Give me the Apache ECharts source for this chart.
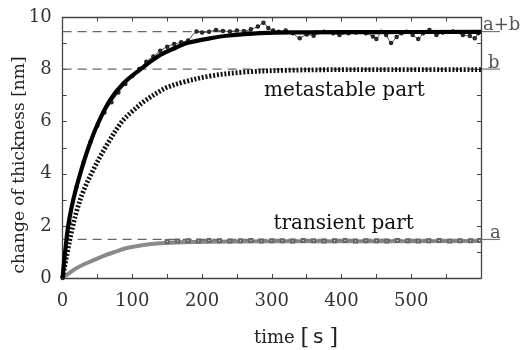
<!DOCTYPE html>
<html><head><meta charset="utf-8">
<script src="https://cdn.jsdelivr.net/npm/echarts@6/dist/echarts.min.js"></script>
<style>html,body{margin:0;padding:0;background:#fff}#c{width:522px;height:350px}</style>
</head><body><div id="c"></div>
<script>
// fitted total (a+b), thick black
const sumTime   = [0, 4, 8, 13, 18, 25, 37, 51, 68, 87, 111, 140, 163, 180, 211, 235, 283, 350, 450, 600];
const sumValues = [0, 1.1, 2.0, 2.72, 3.3, 3.98, 5.0, 5.95, 6.83, 7.47, 8.0, 8.56, 8.85, 9.03, 9.2, 9.3, 9.4, 9.43, 9.44, 9.45];
// metastable part, dotted
const metaTime   = [0, 3, 7, 13, 20, 30, 44, 61, 85, 100, 118, 140, 151, 173, 211, 259, 331, 450, 600];
const metaValues = [0, 0.45, 1.0, 1.8, 2.55, 3.35, 4.15, 5.0, 6.0, 6.4, 6.8, 7.18, 7.33, 7.52, 7.75, 7.9, 7.98, 8.0, 8.0];
// transient part, gray
const transTime   = [0, 10, 20, 30, 44, 60, 75, 92, 116, 140, 187, 250, 350, 600];
const transValues = [0, 0.2, 0.38, 0.52, 0.68, 0.86, 1.0, 1.15, 1.27, 1.33, 1.38, 1.4, 1.41, 1.42];
// transient measured points
const transDataTime   = [150, 165, 180, 195, 210, 225, 240, 255, 270, 285, 300, 315, 330, 345, 360, 375, 390, 405, 420, 435, 450, 465, 480, 495, 510, 525, 540, 555, 570, 585, 598];
const transDataValues = [1.4, 1.42, 1.43, 1.42, 1.44, 1.43, 1.42, 1.43, 1.44, 1.42, 1.43, 1.43, 1.42, 1.44, 1.43, 1.42, 1.43, 1.44, 1.42, 1.43, 1.43, 1.42, 1.44, 1.43, 1.42, 1.43, 1.44, 1.42, 1.43, 1.43, 1.44];
// measured total thickness, thin wiggly line
const dataTime   = [0, 10, 20, 30, 40, 50, 60, 70, 80, 90, 100, 110, 120, 130, 140, 150, 160, 170, 180, 192, 200, 210, 220, 230, 240, 250, 260, 270, 280, 288, 295, 302, 310, 320, 330, 340, 350, 360, 365, 375, 388, 397, 410, 421, 435, 445, 450, 457, 464, 471, 479, 486, 493, 502, 510, 517, 526, 536, 545, 560, 574, 584, 591, 596];
const dataValues = [0, 2.1, 3.5, 4.45, 5.22, 5.85, 6.35, 6.75, 7.12, 7.45, 7.75, 8.02, 8.3, 8.5, 8.72, 8.88, 8.98, 9.05, 9.12, 9.46, 9.42, 9.45, 9.52, 9.48, 9.46, 9.5, 9.48, 9.55, 9.65, 9.8, 9.6, 9.5, 9.45, 9.5, 9.4, 9.2, 9.35, 9.3, 9.42, 9.45, 9.4, 9.33, 9.4, 9.42, 9.4, 9.27, 9.17, 9.45, 9.33, 9.02, 9.25, 9.4, 9.45, 9.33, 9.17, 9.4, 9.52, 9.33, 9.42, 9.46, 9.33, 9.29, 9.2, 9.4];
// saturation levels
const levelNames  = ['a+b', 'b', 'a'];
const levelValues = [9.46, 8.02, 1.48];
const xTickLabels = [0, 100, 200, 300, 400, 500];
const yTickLabels = [0, 2, 4, 6, 8, 10];
const partLabels = ['metastable part', 'transient part'];
const partPos = [[404, 7.18], [403, 2.07]];

const zip = (a, b) => a.map((v, i) => [v, b[i]]);
const serif = 'DejaVu Serif';
const axisCol = '#444';

function mkX(pos, show) {
  return {
    type: 'value', position: pos, min: 0, max: 600, interval: 50,
    axisLine: {show: true, onZero: false, lineStyle: {color: axisCol, width: 1.3}},
    axisTick: {show: true, inside: true, length: 4, lineStyle: {color: axisCol}},
    splitLine: {show: false},
    axisLabel: {show: show, margin: 14, fontFamily: serif, fontSize: 18, color: '#333',
      formatter: v => xTickLabels.includes(v) ? String(v) : ''}
  };
}
function mkY(pos, show) {
  return {
    type: 'value', position: pos, min: 0, max: 10, interval: 1,
    axisLine: {show: true, onZero: false, lineStyle: {color: axisCol, width: 1.3}},
    axisTick: {show: true, inside: true, length: 4, lineStyle: {color: axisCol}},
    splitLine: {show: false},
    axisLabel: {show: show, margin: 11, fontFamily: serif, fontSize: 18, color: '#333',
      formatter: v => yTickLabels.includes(v) ? String(v) : ''}
  };
}

const series = [];
levelValues.forEach((lv, i) => {
  series.push({type: 'line', name: 'level ' + levelNames[i], data: [[0, lv], [600, lv]],
    symbol: 'none', silent: true, z: 1,
    lineStyle: {color: '#666', width: 1.2, type: [9, 6]}});
});
series.push({type: 'line', name: 'transient', data: zip(transTime, transValues), smooth: 0.35,
  symbol: 'none', z: 2, lineStyle: {color: '#8a8a8a', width: 4}});
series.push({type: 'line', name: 'transient data', data: zip(transDataTime, transDataValues),
  symbol: 'emptyRect', symbolSize: 3, showSymbol: true, z: 3,
  itemStyle: {color: '#666', borderWidth: 0.8}, lineStyle: {color: '#777', width: 0.8}});
series.push({type: 'line', name: 'metastable', data: zip(metaTime, metaValues), smooth: 0.35,
  symbol: 'none', z: 4, lineStyle: {color: '#111', width: 4.8, type: [2, 1.8]}});
series.push({type: 'line', name: 'data', data: zip(dataTime, dataValues), smooth: 0.2,
  symbol: 'emptyCircle', symbolSize: 2.5, showSymbol: true, z: 5,
  itemStyle: {color: '#222', borderWidth: 0.7}, lineStyle: {color: '#333', width: 0.9}});
series.push({type: 'line', name: 'sum', data: zip(sumTime, sumValues), smooth: 0.4,
  symbol: 'none', z: 6, lineStyle: {color: '#000', width: 4.2}});

const option = {
  animation: false,
  backgroundColor: '#fff',
  grid: {left: 62.6, right: 41, top: 17.5, bottom: 72},
  xAxis: [mkX('bottom', true), mkX('top', false)],
  yAxis: [mkY('left', true), mkY('right', false)],
  series: series
};
const chart = echarts.init(document.getElementById('c'));
chart.setOption(option);

const px = (t, v) => chart.convertToPixel({xAxisIndex: 0, yAxisIndex: 0}, [t, v]);
const graphics = [];
const labelDx = [2, 7, 9];
levelValues.forEach((lv, i) => {
  const p = px(600, lv);
  graphics.push({type: 'line', silent: true,
    shape: {x1: p[0], y1: p[1], x2: p[0] + 19, y2: p[1]},
    style: {stroke: '#777', lineWidth: 1.2}});
  graphics.push({type: 'text', silent: true,
    style: {text: levelNames[i], x: p[0] + labelDx[i], y: p[1] + 3, font: '18px "DejaVu Serif"',
      fill: '#555', textAlign: 'left', verticalAlign: 'bottom', textVerticalAlign: 'bottom'}});
});
partLabels.forEach((s, i) => {
  const p = px(partPos[i][0], partPos[i][1]);
  graphics.push({type: 'text', silent: true,
    style: {text: s, x: p[0], y: p[1], font: '20px "DejaVu Serif"', fill: '#111',
      textAlign: 'center', verticalAlign: 'middle', textVerticalAlign: 'middle'}});
});
// axis names
graphics.push({type: 'text', silent: true, x: 20, y: 165, rotation: Math.PI / 2,
  style: {text: 'change of thickness [nm]', x: 0, y: 0, font: '17px "DejaVu Serif"', fill: '#222',
    textAlign: 'center', verticalAlign: 'middle', textVerticalAlign: 'middle'}});
graphics.push({type: 'text', silent: true, x: 296, y: 338,
  style: {text: '{t|time }{b|[}{s|s}{b|]}', x: 0, y: 0, textAlign: 'center', verticalAlign: 'middle', textVerticalAlign: 'middle',
    rich: {
      t: {fontFamily: serif, fontSize: 18, fill: '#222', color: '#222'},
      b: {fontFamily: serif, fontSize: 22, fill: '#222', color: '#222'},
      s: {fontFamily: 'DejaVu Sans', fontSize: 20, fill: '#222', color: '#222', padding: [0, 6, 0, 4]}
    }}});
chart.setOption({graphic: graphics});
</script>
</body></html>
